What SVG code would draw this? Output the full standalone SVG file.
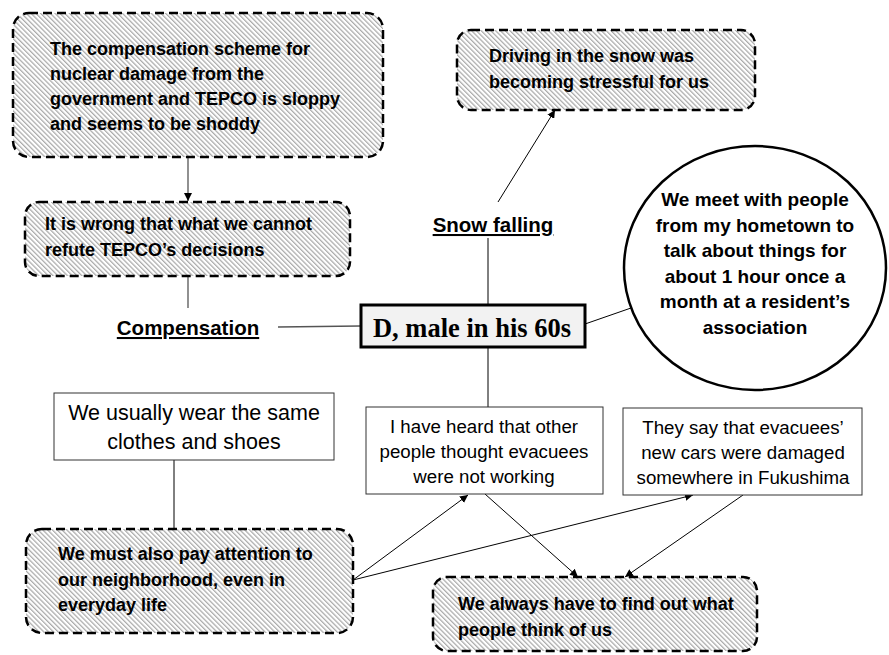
<svg xmlns="http://www.w3.org/2000/svg" width="889" height="655" viewBox="0 0 889 655">
<defs>
<pattern id="hatch" patternUnits="userSpaceOnUse" width="8" height="3.4" patternTransform="rotate(45)">
<rect width="8" height="3.4" fill="#ffffff"/>
<line x1="0" y1="1" x2="8" y2="1" stroke="#5a5a5a" stroke-width="0.7"/>
</pattern>
<marker id="arr" viewBox="0 0 10 10" refX="10" refY="5" markerWidth="8" markerHeight="8" markerUnits="userSpaceOnUse" orient="auto">
<path d="M0,0 L10,5 L0,10 z" fill="#000"/>
</marker>
<style>
.dash{fill:url(#hatch);stroke:#000;stroke-width:2.5;stroke-dasharray:9 5}
.box{fill:#fff;stroke:#333;stroke-width:1}
.b{font-family:"Liberation Sans",Arial,sans-serif;font-weight:bold;font-size:18px;fill:#000}
.bc{font-family:"Liberation Sans",Arial,sans-serif;font-weight:bold;font-size:19px;fill:#000}
.r{font-family:"Liberation Sans",Arial,sans-serif;font-size:18.7px;fill:#000}
.rl{font-family:"Liberation Sans",Arial,sans-serif;font-size:21.5px;fill:#000}
.lbl{font-family:"Liberation Sans",Arial,sans-serif;font-weight:bold;font-size:20.5px;fill:#000;text-decoration:underline}
.con{stroke:#000;stroke-width:1;fill:none}
.cong{stroke:#555;stroke-width:1.3;fill:none}
</style>
</defs>
<g id="connectors">
<line class="cong" x1="188" y1="157" x2="188" y2="201" marker-end="url(#arr)"/>
<line class="cong" x1="188" y1="276" x2="188" y2="308"/>
<line class="cong" x1="278" y1="327" x2="360" y2="326"/>
<line class="con" x1="488" y1="304" x2="488" y2="238"/>
<line class="con" x1="498" y1="202" x2="555" y2="110" marker-end="url(#arr)"/>
<line class="con" x1="585" y1="324" x2="631" y2="308"/>
<line class="con" x1="488" y1="347" x2="488" y2="408"/>
<line class="con" x1="174" y1="460" x2="174" y2="529"/>
<line class="con" x1="353" y1="580" x2="468" y2="495" marker-end="url(#arr)"/>
<line class="con" x1="353" y1="580" x2="693" y2="495" marker-end="url(#arr)"/>
<line class="con" x1="485" y1="494" x2="578" y2="577" marker-end="url(#arr)"/>
<line class="con" x1="743" y1="495" x2="625" y2="577" marker-end="url(#arr)"/>
</g>
<g id="n-scheme">
<rect class="dash" x="13" y="13" width="370" height="144" rx="16"/>
<text class="b" x="50" y="55">The compensation scheme for</text>
<text class="b" x="50" y="80">nuclear damage from the</text>
<text class="b" x="50" y="105">government and TEPCO is sloppy</text>
<text class="b" x="50" y="130">and seems to be shoddy</text>
</g>
<g id="n-wrong">
<rect class="dash" x="25" y="202" width="325" height="74" rx="14"/>
<text class="b" x="45" y="230">It is wrong that what we cannot</text>
<text class="b" x="45" y="256">refute TEPCO’s decisions</text>
</g>
<g id="n-compensation">
<text class="lbl" x="188" y="335" text-anchor="middle">Compensation</text>
</g>
<g id="n-center">
<rect x="361" y="305" width="224" height="42" fill="#f2f2f2" stroke="#000" stroke-width="3"/>
<text x="472" y="337" text-anchor="middle" font-family="'Liberation Serif','Times New Roman',serif" font-weight="bold" font-size="26.5px">D, male in his 60s</text>
</g>
<g id="n-snow">
<text class="lbl" x="493" y="232" text-anchor="middle">Snow falling</text>
</g>
<g id="n-driving">
<rect class="dash" x="457" y="30" width="298" height="80" rx="14"/>
<text class="b" x="489" y="62">Driving in the snow was</text>
<text class="b" x="489" y="88">becoming stressful for us</text>
</g>
<g id="n-meet">
<ellipse cx="755" cy="268" rx="131" ry="122" fill="#fff" stroke="#000" stroke-width="2.5"/>
<text class="bc" x="755" y="206" text-anchor="middle">We meet with people</text>
<text class="bc" x="755" y="232" text-anchor="middle">from my hometown to</text>
<text class="bc" x="755" y="257" text-anchor="middle">talk about things for</text>
<text class="bc" x="755" y="283" text-anchor="middle">about 1 hour once a</text>
<text class="bc" x="755" y="308" text-anchor="middle">month at a resident’s</text>
<text class="bc" x="755" y="334" text-anchor="middle">association</text>
</g>
<g id="n-clothes">
<rect class="box" x="54" y="393" width="280" height="67"/>
<text class="rl" x="194" y="420" text-anchor="middle">We usually wear the same</text>
<text class="rl" x="194" y="449" text-anchor="middle">clothes and shoes</text>
</g>
<g id="n-attention">
<rect class="dash" x="26" y="529" width="327" height="104" rx="16"/>
<text class="b" x="58" y="560">We must also pay attention to</text>
<text class="b" x="58" y="586">our neighborhood, even in</text>
<text class="b" x="58" y="611">everyday life</text>
</g>
<g id="n-heard">
<rect class="box" x="366" y="407" width="237" height="87"/>
<text class="r" x="484" y="433" text-anchor="middle">I have heard that other</text>
<text class="r" x="484" y="458" text-anchor="middle">people thought evacuees</text>
<text class="r" x="484" y="483" text-anchor="middle">were not working</text>
</g>
<g id="n-cars">
<rect class="box" x="623" y="408" width="239" height="87"/>
<text class="r" x="743" y="434" text-anchor="middle">They say that evacuees’</text>
<text class="r" x="743" y="459" text-anchor="middle">new cars were damaged</text>
<text class="r" x="743" y="484" text-anchor="middle">somewhere in Fukushima</text>
</g>
<g id="n-always">
<rect class="dash" x="433" y="577" width="324" height="74" rx="14"/>
<text class="b" x="458" y="610">We always have to find out what</text>
<text class="b" x="458" y="636">people think of us</text>
</g>
</svg>
